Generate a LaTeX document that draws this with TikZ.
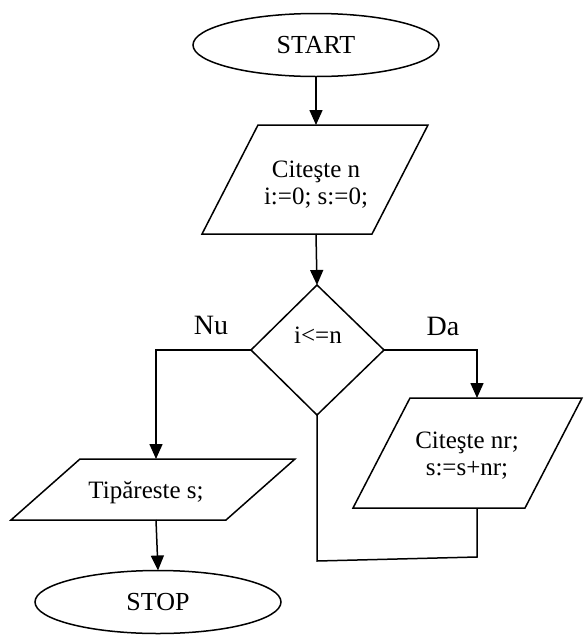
\documentclass[tikz,border=0pt]{standalone}
\usepackage{fontspec}
\setmainfont{Liberation Serif}
\usetikzlibrary{arrows.meta,shapes.geometric}
\begin{document}
\begin{tikzpicture}[x=1pt,y=-1pt,
  line width=1.5pt,
  arr/.style={-{Triangle[length=15pt,width=13pt]}},
  txt/.style={font=\fontsize{25}{27}\selectfont,align=center,inner sep=0pt},
  lbl/.style={font=\fontsize{28}{30}\selectfont,inner sep=0pt},
  term/.style={ellipse,draw,minimum width=246pt,minimum height=63pt,inner sep=0pt,font=\fontsize{26}{28}\selectfont}]
\useasboundingbox (0,0) rectangle (584,635);
% START
\node[term] (start) at (316,45) {START};
% read n
\coordinate (p1a) at (258,125); \coordinate (p1b) at (428,125);
\coordinate (p1c) at (372,234); \coordinate (p1d) at (202,234);
\draw (p1a) -- (p1b) -- (p1c) -- (p1d) -- cycle;
\node[txt] (t1) at (316,185) {Citeşte n\\i:=0; s:=0;};
\coordinate (p1top) at (316,125); \coordinate (p1bot) at (316,234);
% decision
\coordinate (dT) at (317,285); \coordinate (dR) at (384,350);
\coordinate (dB) at (317,415); \coordinate (dL) at (251,350);
\draw (dT) -- (dR) -- (dB) -- (dL) -- cycle;
\node[txt] (cond) at (318,335) {i<=n};
\node[lbl] (nu) at (211,325) {Nu};
\node[lbl] (da) at (443,326) {Da};
% print s
\coordinate (p2a) at (80,459); \coordinate (p2b) at (295,459);
\coordinate (p2c) at (226,520); \coordinate (p2d) at (11,520);
\draw (p2a) -- (p2b) -- (p2c) -- (p2d) -- cycle;
\node[txt] (t2) at (146,493) {Tipăreste s;};
\coordinate (p2top) at (156,459); \coordinate (p2bot) at (156,520);
% read nr
\coordinate (p3a) at (410,398); \coordinate (p3b) at (582,398);
\coordinate (p3c) at (525,508); \coordinate (p3d) at (353,508);
\draw (p3a) -- (p3b) -- (p3c) -- (p3d) -- cycle;
\node[txt] (t3) at (467,456) {Citeşte nr;\\s:=s+nr;};
\coordinate (p3top) at (477,398); \coordinate (p3bot) at (477,508);
% STOP
\node[term] (stop) at (158,602) {STOP};
\coordinate (stoptop) at (158,570.5);
% connectors
\draw[arr] (start.south) -- (p1top);
\draw[arr] (p1bot) -- (dT);
\coordinate (lc) at (156,350);
\draw[arr] (dL) -- (lc) -- (p2top);
\coordinate (rc) at (477,350);
\draw[arr] (dR) -- (rc) -- (p3top);
\draw[arr] (p2bot) -- (stoptop);
\coordinate (l1) at (477,557); \coordinate (l2) at (317,561);
\draw (p3bot) -- (l1) -- (l2) -- (dB);
\end{tikzpicture}
\end{document}
